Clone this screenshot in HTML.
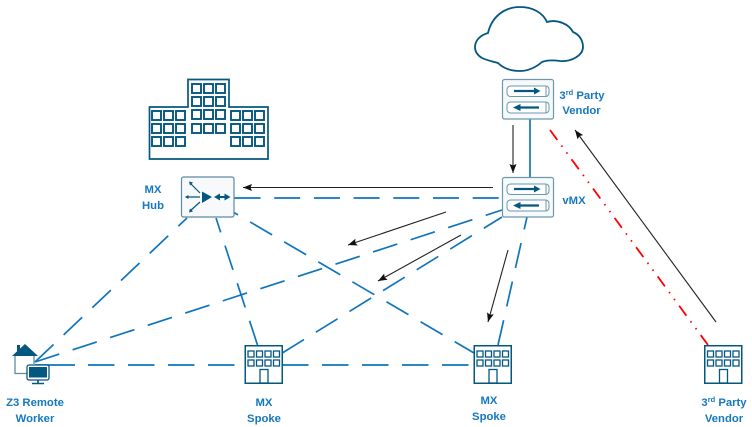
<!DOCTYPE html>
<html><head><meta charset="utf-8">
<style>
html,body{margin:0;padding:0;background:#fff}
body{width:752px;height:427px;overflow:hidden}
svg{display:block}
text{font-family:"Liberation Sans",sans-serif;font-weight:bold;font-size:11.3px;fill:#1578c0;text-anchor:middle}
.b{stroke:#0f75bc;stroke-width:1.7;fill:none;stroke-dasharray:25.5 14}
.s{stroke:#0f75bc;stroke-width:1.7;fill:none}
.k{stroke:#222;stroke-width:1.1;fill:none}
.w{fill:none;stroke:#04577f;stroke-width:1.9}
</style></head><body>
<svg width="752" height="427" viewBox="0 0 752 427" xmlns="http://www.w3.org/2000/svg">
<defs>
<marker id="ah" markerWidth="10" markerHeight="8" refX="9" refY="3.500" orient="auto" markerUnits="userSpaceOnUse"><path d="M0 0L9 3.500L0 7L1.500 3.500Z" fill="#111"/></marker>
<g id="wr"><rect x="0" y="0" width="9" height="9"/><rect x="12" y="0" width="9" height="9"/><rect x="24" y="0" width="9" height="9"/></g>
<g id="bld"><rect x=".75" y=".75" width="37" height="37.500" fill="#fff" stroke="#04577f" stroke-width="1.500"/>
<g fill="none" stroke="#04577f" stroke-width="1.300"><rect x="3.500" y="6" width="6" height="6"/><rect x="12" y="6" width="6" height="6"/><rect x="20.500" y="6" width="6" height="6"/><rect x="29" y="6" width="6" height="6"/><rect x="3.500" y="15" width="6" height="6"/><rect x="12" y="15" width="6" height="6"/><rect x="20.500" y="15" width="6" height="6"/><rect x="29" y="15" width="6" height="6"/><rect x="15.500" y="24.500" width="8" height="13.500"/></g></g>
<g id="rt"><rect x=".5" y=".5" width="51" height="39.500" rx="2" fill="#f7fafb" stroke="#6d97ad" stroke-width="1.200"/>
<rect x="5" y="7" width="42" height="10.500" rx="3.500" fill="#fff" stroke="#6d97ad"/><rect x="5" y="23" width="42" height="11" rx="3.500" fill="#fff" stroke="#6d97ad"/>
<path d="M44 7v10.500M44 23v11" stroke="#6d97ad" fill="none"/>
<path d="M12 12H33" stroke="#04577f" stroke-width="2.200"/><path d="M32 8.500L38.500 12L32 15.500Z" fill="#04577f"/>
<path d="M18 28.500H37" stroke="#04577f" stroke-width="2.200"/><path d="M18.500 25L11 28.500L18.500 32Z" fill="#04577f"/></g>
</defs>

<!-- Z3 house (under the connectors) -->
<path d="M15 356V373.500H28M34 356V364" fill="none" stroke="#5e8aa3" stroke-width="1.300"/>
<path d="M12 356L25 344L38 356Z" fill="#04577f"/>
<rect x="17" y="345" width="3" height="6" fill="#04577f"/>

<!-- blue connectors -->
<path class="b" style="stroke-dasharray:26 13.700" d="M234.500 198H502"/>
<path class="b" d="M35 362L187 218"/>
<path class="b" d="M257.500 345L216 218"/>
<path class="b" d="M216 202L474 353"/>
<path class="b" d="M35 362L502 210"/>
<path class="b" d="M282.300 353L502 217"/>
<path class="b" d="M498 345L527 217"/>
<path class="s" d="M35 365H75"/>
<path class="b" style="stroke-dasharray:26.500 13.500" d="M88 365H245"/>
<path class="b" style="stroke-dasharray:26.500 13.500" d="M282 365H474"/>
<path class="s" d="M530 119V177"/>

<!-- red -->
<path d="M550 130L708 345" fill="none" stroke="#f00" stroke-width="1.800" stroke-dasharray="12.300 7 1.500 7 1.500 7.050"/>

<!-- black arrows -->
<path class="k" marker-end="url(#ah)" d="M493 187.500L243 187.500"/>
<path class="k" marker-end="url(#ah)" d="M513 125L513 173"/>
<path class="k" marker-end="url(#ah)" d="M446 212L348 245"/>
<path class="k" marker-end="url(#ah)" d="M461 235L378 281"/>
<path class="k" marker-end="url(#ah)" d="M508 250L488 322"/>
<path class="k" marker-end="url(#ah)" d="M716 322L575 130"/>

<!-- cloud -->
<path d="M488 33C492 16 505 7 520 7C533 7 543 13 547 22C557 19 569 24 573 32C580 35 583 41 583 47C583 55 572 62 560 61C553 60 547 60 542 62C535 68 528 71 520 71C511 71 503 68 498 63C491 61 486 60 482 58C477 55 475 51 475 47C475 40 481 35 488 33Z" fill="#fff" stroke="#04577f" stroke-width="1.800"/>

<!-- HQ building -->
<path d="M149.500 159V107H188V79.500H229V107H268V159Z" fill="none" stroke="#04577f" stroke-width="1.700"/>
<g class="w">
<use href="#wr" x="192" y="84"/><use href="#wr" x="192" y="97"/><use href="#wr" x="192" y="110"/><use href="#wr" x="192" y="124"/>
<use href="#wr" x="152" y="111"/><use href="#wr" x="152" y="124"/><use href="#wr" x="152" y="137"/>
<use href="#wr" x="231" y="111"/><use href="#wr" x="231" y="124"/><use href="#wr" x="231" y="137"/>
</g>

<!-- Hub -->
<rect x="181.500" y="177" width="52.500" height="40" rx="2" fill="#f7f9fa" stroke="#5e8aa3" stroke-width="1.200"/>
<path d="M202 191.500L212 197L202 203Z" fill="#04577f"/>
<path d="M190 183L200 193M186 197H200M190 211L200 202" stroke="#04577f" stroke-width="1.200" fill="none"/>
<path d="M189 181.500L193 182.500L190 185.500ZM189 212.500L193 211.500L190 208.500ZM185 197L188.500 195V199Z" fill="#04577f"/>
<path d="M218 197H226" stroke="#04577f" stroke-width="2"/><path d="M220 193.500L214 197L220 200.500ZM224.500 193.500L230.500 197L224.500 200.500Z" fill="#04577f"/>

<!-- Routers -->
<use href="#rt" x="502" y="79"/>
<use href="#rt" x="502" y="177"/>

<!-- buildings -->
<use href="#bld" x="244.500" y="345"/>
<use href="#bld" x="473.500" y="345"/>
<use href="#bld" x="704" y="345"/>

<!-- Z3 monitor -->
<rect x="27" y="365" width="22" height="15" rx="2" fill="#fff" stroke="#04577f" stroke-width="1.300"/>
<rect x="29" y="367" width="18" height="10.500" fill="#04577f"/>
<path d="M38 380V383M32 383.500H44" stroke="#04577f" stroke-width="1.600"/>

<!-- labels -->
<text x="153" y="193">MX</text><text x="153" y="209">Hub</text>
<text x="582" y="99">3<tspan font-size="7.500" dy="-4">rd</tspan><tspan dy="4"> Party</tspan></text>
<text x="581.500" y="114">Vendor</text>
<text x="574" y="204">vMX</text>
<text x="35" y="406">Z3 Remote</text><text x="35" y="422">Worker</text>
<text x="264" y="406">MX</text><text x="264" y="422">Spoke</text>
<text x="489" y="404">MX</text><text x="489" y="420">Spoke</text>
<text x="724" y="406">3<tspan font-size="7.500" dy="-4">rd</tspan><tspan dy="4"> Party</tspan></text>
<text x="724" y="422">Vendor</text>
</svg>
</body></html>
